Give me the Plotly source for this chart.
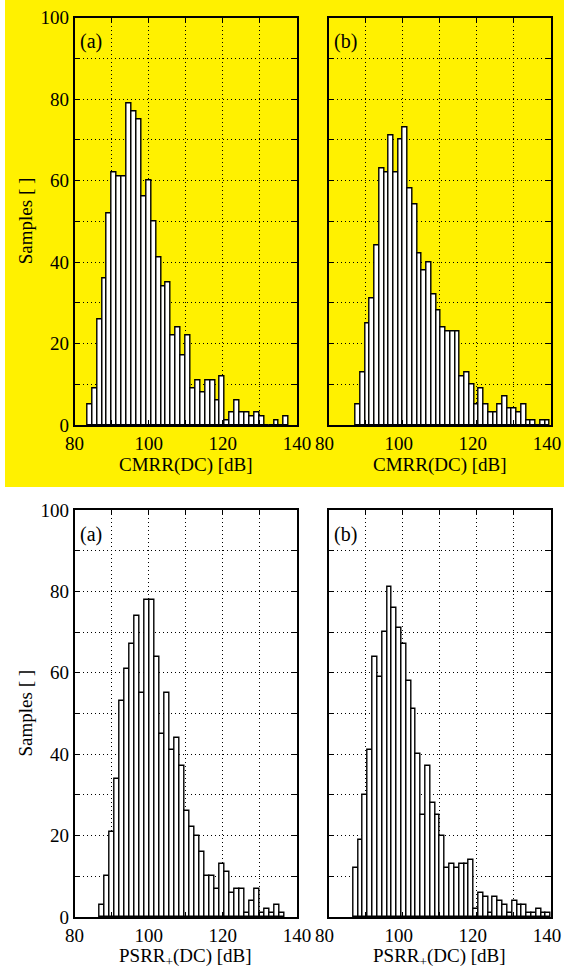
import plotly.graph_objects as go

# ---------------- data (histogram counts) ----------------
cmrr_a_start, cmrr_a_width = 83.45, 1.325
cmrr_a_counts = [5, 9, 26, 36, 52, 62, 61, 61, 79, 77, 75, 56, 60, 50, 41, 34, 35, 22, 24, 17,
                 22, 9, 11, 8, 11, 11, 6, 12, 1, 3, 6, 3, 3, 2, 3, 2, 0, 0, 1, 0, 2]

cmrr_b_start, cmrr_b_width = 87.3, 1.278
cmrr_b_counts = [5, 13, 25, 31, 44, 63, 62, 71, 62, 70, 73, 58, 54, 42, 38, 40, 32, 28, 24, 23,
                 23, 23, 12, 13, 10, 5, 9, 5, 3, 3, 5, 7, 4, 4, 3, 5, 1, 1, 0, 1, 1]

psrr_a_start, psrr_a_width = 86.85, 1.347
psrr_a_counts = [3, 10, 21, 34, 53, 61, 67, 74, 55, 78, 78, 64, 45, 55, 41, 44, 37, 26, 22, 20,
                 16, 10, 10, 7, 13, 11, 6, 7, 7, 1, 4, 7, 1, 2, 1, 3, 1]

psrr_b_start, psrr_b_width = 86.7, 1.298
psrr_b_counts = [12, 19, 30, 41, 64, 59, 70, 81, 76, 71, 67, 58, 51, 40, 25, 37, 28, 25, 20, 12,
                 13, 12, 13, 13, 14, 2, 6, 5, 1, 5, 4, 3, 1, 4, 3, 3, 1, 1, 2, 1, 1]

x_tickvals = [80, 90, 100, 110, 120, 130, 140]
x_ticktext = ["80", "", "100", "", "120", "", "140"]
y_tickvals = [0, 10, 20, 30, 40, 50, 60, 70, 80, 90, 100]
y_ticktext = ["0", "", "20", "", "40", "", "60", "", "80", "", "100"]

panel_labels = ["(a)", "(b)", "(a)", "(b)"]
x_titles = ["CMRR(DC) [dB]", "CMRR(DC) [dB]", "PSRR<sub>+</sub>(DC) [dB]", "PSRR<sub>+</sub>(DC) [dB]"]
y_title = "Samples [ ]"

# ---------------- layout geometry ----------------
W, H = 564, 977
FONT = "Liberation Serif"

def px_x(p):
    return p / W

def px_y(p):
    return 1 - p / H

x_domains = [(px_x(74.5), px_x(297)), (px_x(328.5), px_x(551))]
y_domains = [(px_y(425), px_y(17.5)), (px_y(917), px_y(510))]

fig = go.Figure()

series = [
    (cmrr_a_start, cmrr_a_width, cmrr_a_counts),
    (cmrr_b_start, cmrr_b_width, cmrr_b_counts),
    (psrr_a_start, psrr_a_width, psrr_a_counts),
    (psrr_b_start, psrr_b_width, psrr_b_counts),
]

for k, (start, width, counts) in enumerate(series):
    n = k + 1
    centers = [start + (i + 0.5) * width for i in range(len(counts))]
    fig.add_trace(go.Bar(
        x=centers, y=counts, width=width,
        marker=dict(color="white", line=dict(color="black", width=1.4)),
        xaxis="x" if n == 1 else f"x{n}",
        yaxis="y" if n == 1 else f"y{n}",
        showlegend=False,
        hoverinfo="x+y",
    ))

common_axis = dict(
    showline=True, linecolor="black", linewidth=1.5, mirror="ticks",
    ticks="inside", ticklen=5, tickcolor="black", tickwidth=1,
    showgrid=True, gridcolor="black", gridwidth=1, griddash="1px,3px",
    zeroline=False, fixedrange=True, automargin=False,
    ticklabeloverflow="allow",
    tickfont=dict(family=FONT, size=19, color="black"),
)

layout = dict(
    template="none",
    width=W, height=H,
    margin=dict(l=0, r=0, t=0, b=0, pad=0, autoexpand=False),
    paper_bgcolor="white",
    plot_bgcolor="rgba(0,0,0,0)",
    bargap=0,
    font=dict(family=FONT, color="black"),
    shapes=[dict(type="rect", xref="paper", yref="paper",
                 x0=px_x(5), x1=1.0, y0=px_y(487), y1=1.0,
                 fillcolor="#FFF100", line=dict(width=0), layer="below")],
)

annotations = []
for k in range(4):
    n = k + 1
    col = k % 2
    row = k // 2
    xs = "" if n == 1 else str(n)
    layout[f"xaxis{xs}"] = dict(
        common_axis, domain=list(x_domains[col]), anchor=f"y{xs}",
        range=[80, 140], tickmode="array", tickvals=x_tickvals, ticktext=x_ticktext,
        ticklabelshift=(-4 if col == 1 else 0),
    )
    layout[f"yaxis{xs}"] = dict(
        common_axis, domain=list(y_domains[row]), anchor=f"x{xs}",
        range=[0, 100], tickmode="array", tickvals=y_tickvals, ticktext=y_ticktext,
        showticklabels=(col == 0),
    )
    x0, x1 = x_domains[col]
    y0, y1 = y_domains[row]
    # panel label
    annotations.append(dict(
        text=panel_labels[k], xref="paper", yref="paper",
        x=x0 + px_x(3), y=y1 - 24 / H, xanchor="left", yanchor="middle",
        showarrow=False, font=dict(family=FONT, size=20, color="black"),
    ))
    # x title
    annotations.append(dict(
        text=x_titles[k], xref="paper", yref="paper",
        x=(x0 + x1) / 2, y=y0 - 40 / H, xanchor="center", yanchor="middle",
        showarrow=False, font=dict(family=FONT, size=19, color="black"),
    ))
    if col == 0:
        annotations.append(dict(
            text=y_title, xref="paper", yref="paper",
            x=px_x(25), y=(y0 + y1) / 2, xanchor="center", yanchor="middle",
            textangle=-90, showarrow=False,
            font=dict(family=FONT, size=19, color="black"),
        ))

layout["annotations"] = annotations
fig.update_layout(**layout)

fig.write_html(
    "out.html",
    config={"displayModeBar": False},
    post_script="document.body.style.margin='0';document.body.style.overflow='hidden';",
)
